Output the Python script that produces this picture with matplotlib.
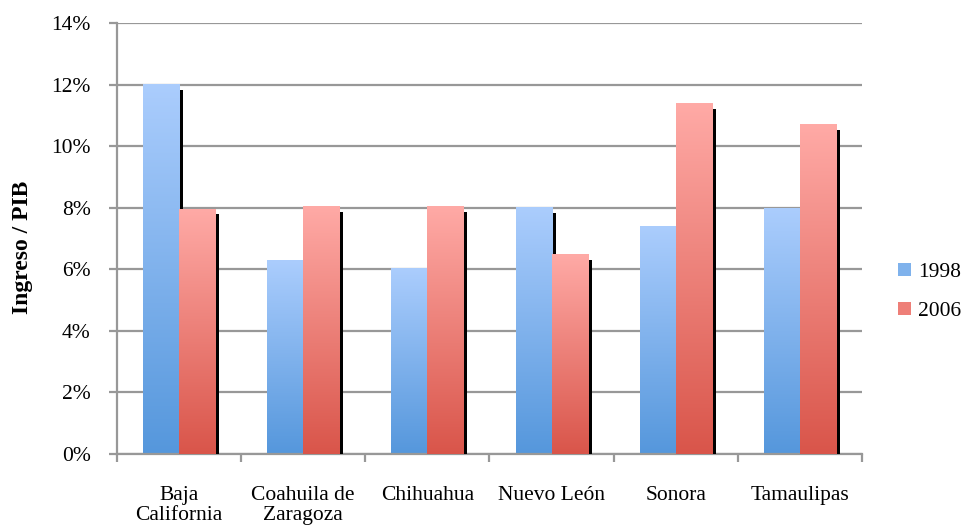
import numpy as np
import matplotlib
matplotlib.use("Agg")
import matplotlib.pyplot as plt
from matplotlib.patches import Rectangle
from matplotlib.transforms import ScaledTranslation
from matplotlib.colors import LinearSegmentedColormap
from matplotlib.ticker import PercentFormatter, FixedLocator

states = ["Baja\nCalifornia", "Coahuila de\nZaragoza", "Chihuahua",
          "Nuevo León", "Sonora", "Tamaulipas"]
series_names = ["1998", "2006"]
values_1998 = [12.0, 6.27, 6.02, 8.0, 7.38, 7.97]
values_2006 = [7.95, 8.03, 8.03, 6.47, 11.37, 10.69]
y_ticks = [0, 2, 4, 6, 8, 10, 12, 14]

plt.rcParams["font.family"] = ["Liberation Serif", "DejaVu Serif"]

fig = plt.figure(figsize=(9.65, 5.26), dpi=100)
ax = fig.add_axes([0.1212, 0.1369, 0.7721, 0.8194])

grad_blue = LinearSegmentedColormap.from_list("b", ["#5597dc", "#abcdfd"])
grad_red = LinearSegmentedColormap.from_list("r", ["#d9554a", "#ffaaa6"])
legend_colors = ["#7fb2ec", "#ee7f78"]

width = 0.29
grad = np.linspace(0, 1, 256).reshape(-1, 1)
shadow_tf = ax.transData + ScaledTranslation(4 / 100, -5 / 100, fig.dpi_scale_trans)

for k, (vals, cmap) in enumerate([(values_1998, grad_blue), (values_2006, grad_red)]):
    for i, v in enumerate(vals):
        x0 = i - width + k * width
        # drop shadow behind each bar
        sh = Rectangle((x0, 0), width, v, facecolor="black", edgecolor="none",
                       transform=shadow_tf, zorder=2 + k)
        ax.add_patch(sh)
        sh.set_clip_box(ax.bbox)
        # vertical gradient fill, light at the top
        ax.imshow(grad, cmap=cmap, origin="lower", aspect="auto",
                  extent=(x0, x0 + width, 0, v), zorder=2.5 + k,
                  interpolation="bilinear")

ax.set_xlim(-0.5, len(states) - 0.5)
ax.set_ylim(0, 14)
ax.set_yticks(y_ticks)
ax.yaxis.set_major_formatter(PercentFormatter(decimals=0))
ax.set_xticks(range(len(states)))
ax.set_xticklabels(states)
ax.xaxis.set_minor_locator(FixedLocator(np.arange(-0.5, len(states), 1.0)))

grid_c = "#989898"
ax.grid(axis="y", color=grid_c, linewidth=1.6, zorder=1)
ax.set_axisbelow(True)
for s in ["top", "right"]:
    ax.spines[s].set_visible(False)
for s in ["left", "bottom"]:
    ax.spines[s].set_color(grid_c)
    ax.spines[s].set_linewidth(1.6)

ax.tick_params(axis="y", length=6, width=1.6, color=grid_c, labelsize=15.5, pad=13)
ax.tick_params(axis="x", which="major", length=0, labelsize=15.5, pad=23)
ax.tick_params(axis="x", which="minor", length=6, width=1.6, color=grid_c)
for t in ax.get_xticklabels():
    t.set_linespacing(1.1)
    t.set_verticalalignment("top")

ax.set_ylabel("Ingreso / PIB", fontsize=17, fontweight="bold")
ax.yaxis.set_label_coords(-0.113, 0.48)

handles = [Rectangle((0, 0), 1, 1, facecolor=c, edgecolor="none") for c in legend_colors]
fig.legend(handles, series_names, loc="center left", bbox_to_anchor=(0.931, 0.445),
           borderpad=0, borderaxespad=0, frameon=False, fontsize=15.5,
           handlelength=0.6, handleheight=0.6, handletextpad=0.3, labelspacing=0.9)

fig.savefig("out.png", dpi=100)
